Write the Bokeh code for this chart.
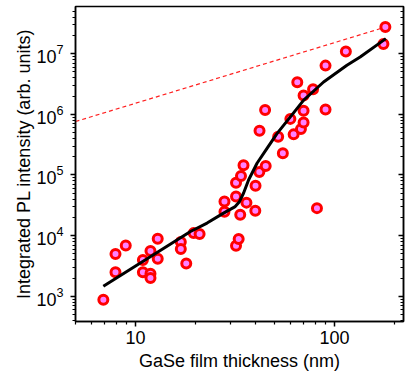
from bokeh.plotting import figure
from bokeh.models import FixedTicker, LogAxis, LogTickFormatter, Range1d, CustomJSTickFormatter
from bokeh.embed import file_html
from bokeh.resources import INLINE

# measured data (thickness in nm, integrated PL intensity in arb. units)
thickness = [6.9, 7.94, 7.94, 8.94, 10.9, 10.9, 11.9, 11.9, 11.9, 12.94, 12.94,
             16.9, 16.9, 18.0, 19.6, 21.0,
             28.0, 28.0, 32.0, 32.0, 32.0, 33.0, 33.6, 33.9, 34.9, 36.1,
             40.0, 40.1, 41.9, 42.0, 45.1, 44.8, 52.1, 55.0, 60.0, 62.3,
             65.0, 67.8, 69.9, 69.9, 69.9, 78.0, 81.6, 90.1, 90.1, 114, 176, 180]
intensity = [880, 4970, 2480, 6890, 3965, 2480, 5570, 2360, 2005, 8870, 4165,
             7830, 6010, 3480, 11000, 10600,
             36400, 24700, 44000, 74700, 6800, 8800, 22000, 96000, 144000, 35000,
             25600, 66600, 112000, 535000, 141000, 1.18e6, 426000, 228000, 841000, 467000,
             3.37e6, 570000, 735000, 1.14e6, 2.04e6, 2.59e6, 28400, 6.35e6, 1.2e6, 1.09e7,
             1.44e7, 2.74e7]

# fitted curve
fit_x = [6.9, 18.9, 22.9, 27.7, 31.7, 33.3, 34.9, 37.0, 40.8, 45.8, 51.5, 60.0,
         70.0, 88.1, 115.4, 134.5, 181.0]
fit_y = [1460, 11700, 16100, 23500, 30100, 36300, 50000, 82700, 156000, 275000,
         485000, 908000, 1.71e6, 3.41e6, 6.43e6, 8.8e6, 1.77e7]

# dashed reference line
ref_x = [5.0, 180.0]
ref_y = [7.6e5, 2.74e7]

# ticks
x_major = [10, 100]
x_minor = [5, 6, 7, 8, 9, 20, 30, 40, 50, 60, 70, 80, 90, 200]
y_major = [1e3, 1e4, 1e5, 1e6, 1e7]
y_minor = [k * 10.0 ** e for e in range(2, 8) for k in range(2, 10)]

FONT = "Liberation Sans"

p = figure(width=407, height=373,
           x_axis_type="log", y_axis_type="log",
           x_range=Range1d(5.0, 222.0), y_range=Range1d(384.0, 5.99e7),
           output_backend="svg", toolbar_location=None,
           min_border_left=75, min_border_right=4, min_border_top=6, min_border_bottom=51)

p.grid.visible = False
p.outline_line_color = "black"
p.outline_line_width = 1.5
p.background_fill_color = "white"
p.border_fill_color = "white"

xa = p.xaxis[0]
xa.ticker = FixedTicker(ticks=x_major, minor_ticks=x_minor)
xa.formatter = LogTickFormatter(min_exponent=3)
ya = p.yaxis[0]
ya.ticker = FixedTicker(ticks=y_major, minor_ticks=y_minor)

for ax in (xa, ya):
    ax.axis_line_width = 1.5
    ax.major_tick_line_width = 1.5
    ax.minor_tick_line_width = 1.2
    ax.major_tick_in = 0
    ax.major_tick_out = 5
    ax.minor_tick_in = 0
    ax.minor_tick_out = 3
    ax.major_label_text_font = FONT
    ax.major_label_text_font_size = "18px"
    ax.major_label_text_color = "black"
    ax.axis_label_text_font = FONT
    ax.axis_label_text_font_size = "18px"
    ax.axis_label_text_font_style = "normal"
    ax.axis_label_text_color = "black"

xa.axis_label = "GaSe film thickness (nm)"
ya.axis_label = "Integrated PL intensity (arb. units)"
xa.major_label_standoff = 4
xa.axis_label_standoff = 4
ya.major_label_standoff = 7
ya.axis_label_standoff = -1

ra = LogAxis(ticker=FixedTicker(ticks=y_major, minor_ticks=y_minor),
             formatter=CustomJSTickFormatter(code="return ' '"),
             major_tick_in=5, major_tick_out=0, minor_tick_in=3, minor_tick_out=0,
             major_label_text_font_size="4px", major_label_text_color=None,
             major_label_standoff=0,
             axis_line_width=1.5, major_tick_line_width=1.5, minor_tick_line_width=1.2)
p.add_layout(ra, "right")

p.line(ref_x, ref_y, line_color="#ff2020", line_width=1.2, line_dash="4 3")
p.scatter(thickness, intensity, marker="circle", size=9,
          fill_color="#ff80ff", line_color="#ff0000", line_width=3)
p.line(fit_x, fit_y, line_color="black", line_width=3)

open("out.html", "w").write(file_html(p, INLINE))
